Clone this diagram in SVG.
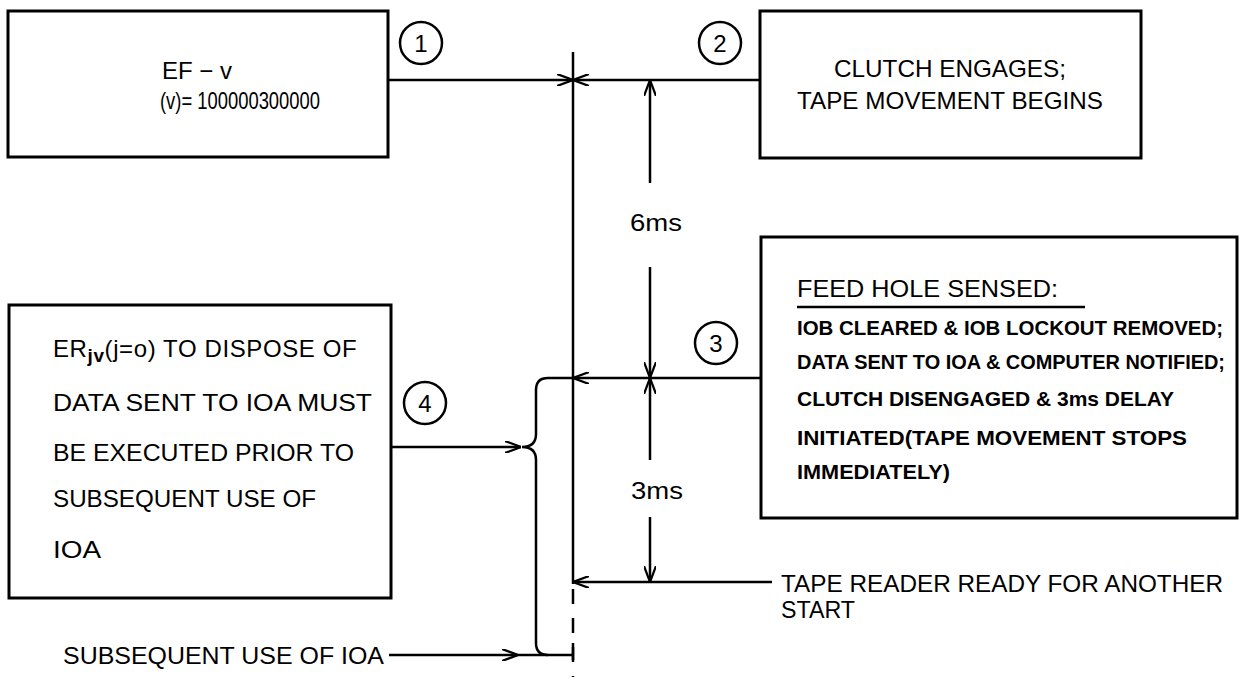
<svg xmlns="http://www.w3.org/2000/svg" width="1240" height="677" viewBox="0 0 1240 677">
<style>
.box{fill:none;stroke:#000;stroke-width:3}
.ln{fill:none;stroke:#000;stroke-width:2.5}
.t{font-family:"Liberation Sans","DejaVu Sans",sans-serif;font-size:24px;fill:#000}
.b{font-family:"Liberation Sans","DejaVu Sans",sans-serif;font-size:21px;font-weight:bold;fill:#000}
.num{font-family:"Liberation Sans","DejaVu Sans",sans-serif;font-size:24px;fill:#000;text-anchor:middle}
.circ{fill:none;stroke:#000;stroke-width:2.5}
</style>
<defs>
<marker id="ah" viewBox="0 0 16 12" refX="16" refY="6" markerWidth="16" markerHeight="12" markerUnits="userSpaceOnUse" orient="auto">
<path d="M0,0 L16,6 L0,12" fill="none" stroke="#000" stroke-width="2.2"/>
</marker>
</defs>
<rect width="1240" height="677" fill="#fff"/>

<g id="connectors">
<line class="ln" x1="573" y1="52" x2="573" y2="584"/>
<line class="ln" x1="573" y1="589" x2="573" y2="677" stroke-dasharray="15 14"/>
<line class="ln" x1="573" y1="643" x2="573" y2="660"/>
<line class="ln" x1="388" y1="80" x2="573" y2="80" marker-end="url(#ah)"/>
<line class="ln" x1="760" y1="80" x2="573" y2="80" marker-end="url(#ah)"/>
<line class="ln" x1="761" y1="378" x2="573" y2="378" marker-end="url(#ah)"/>
<line class="ln" x1="772" y1="582" x2="573" y2="582" marker-end="url(#ah)"/>
<line class="ln" x1="650" y1="183" x2="650" y2="80" marker-end="url(#ah)"/>
<line class="ln" x1="650" y1="267" x2="650" y2="378" marker-end="url(#ah)"/>
<line class="ln" x1="650" y1="460" x2="650" y2="378" marker-end="url(#ah)"/>
<line class="ln" x1="650" y1="517" x2="650" y2="582" marker-end="url(#ah)"/>
<path class="ln" d="M573,378 L548,378 Q536,378 536,390 L536,434 Q536,447 522,447 Q536,447 536,460 L536,643 Q536,655 548,655 L573,655"/>
<line class="ln" x1="391" y1="447" x2="521" y2="447" marker-end="url(#ah)"/>
<line class="ln" x1="389" y1="655" x2="518" y2="655" marker-end="url(#ah)"/>
<line class="ln" x1="518" y1="655" x2="548" y2="655"/>
</g>

<g id="node1">
<rect class="box" x="8" y="11" width="380" height="146"/>
<text class="t" x="162" y="79" textLength="70" lengthAdjust="spacingAndGlyphs">EF − v</text>
<text class="t" x="160" y="109" textLength="160" lengthAdjust="spacingAndGlyphs">(v)= 100000300000</text>
</g>
<g id="marker1">
<circle class="circ" cx="421" cy="43" r="21"/>
<text class="num" x="421" y="52">1</text>
</g>

<g id="node2">
<rect class="box" x="760" y="11" width="381" height="147"/>
<text class="t" x="950" y="77" text-anchor="middle" textLength="232" lengthAdjust="spacingAndGlyphs">CLUTCH ENGAGES;</text>
<text class="t" x="950" y="109" text-anchor="middle" textLength="306" lengthAdjust="spacingAndGlyphs">TAPE MOVEMENT BEGINS</text>
</g>
<g id="marker2">
<circle class="circ" cx="720" cy="43" r="21"/>
<text class="num" x="720" y="52">2</text>
</g>

<g id="dims">
<text class="t" x="656" y="231" text-anchor="middle" textLength="52" lengthAdjust="spacingAndGlyphs">6ms</text>
<text class="t" x="657" y="499" text-anchor="middle" textLength="52" lengthAdjust="spacingAndGlyphs">3ms</text>
</g>

<g id="node3">
<rect class="box" x="761" y="237" width="476" height="281"/>
<text class="t" x="797" y="297" textLength="261" lengthAdjust="spacingAndGlyphs">FEED HOLE SENSED:</text>
<line class="ln" x1="797" y1="307" x2="1085" y2="307"/>
<text class="b" x="797" y="335" textLength="426" lengthAdjust="spacingAndGlyphs">IOB CLEARED &amp; IOB LOCKOUT REMOVED;</text>
<text class="b" x="797" y="369" font-size="19" textLength="428" lengthAdjust="spacingAndGlyphs">DATA SENT TO IOA &amp; COMPUTER NOTIFIED;</text>
<text class="b" x="797" y="406" textLength="377" lengthAdjust="spacingAndGlyphs">CLUTCH DISENGAGED &amp; 3ms DELAY</text>
<text class="b" x="797" y="445" textLength="390" lengthAdjust="spacingAndGlyphs">INITIATED(TAPE MOVEMENT STOPS</text>
<text class="b" x="797" y="479" textLength="153" lengthAdjust="spacingAndGlyphs">IMMEDIATELY)</text>
</g>
<g id="marker3">
<circle class="circ" cx="716" cy="343" r="21"/>
<text class="num" x="716" y="352">3</text>
</g>

<g id="node4">
<rect class="box" x="9" y="305" width="382" height="293"/>
<text class="t" x="53" y="357" letter-spacing="0.6">ER<tspan font-size="19" font-weight="bold" dy="5">jv</tspan><tspan dy="-5">(j=o)  TO DISPOSE OF</tspan></text>
<text class="t" x="53" y="411" textLength="319" lengthAdjust="spacingAndGlyphs">DATA SENT TO IOA MUST</text>
<text class="t" x="53" y="461" textLength="301" lengthAdjust="spacingAndGlyphs">BE EXECUTED PRIOR TO</text>
<text class="t" x="53" y="507" textLength="263" lengthAdjust="spacingAndGlyphs">SUBSEQUENT USE OF</text>
<text class="t" x="53" y="558" textLength="48" lengthAdjust="spacingAndGlyphs">IOA</text>
</g>
<g id="marker4">
<circle class="circ" cx="425" cy="403" r="21"/>
<text class="num" x="425" y="412">4</text>
</g>

<g id="label-subsequent">
<text class="t" x="63" y="664" textLength="321" lengthAdjust="spacingAndGlyphs">SUBSEQUENT USE OF IOA</text>
</g>
<g id="label-ready">
<text class="t" x="781" y="592" textLength="442" lengthAdjust="spacingAndGlyphs">TAPE READER READY FOR ANOTHER</text>
<text class="t" x="781" y="618" textLength="74" lengthAdjust="spacingAndGlyphs">START</text>
</g>
</svg>
